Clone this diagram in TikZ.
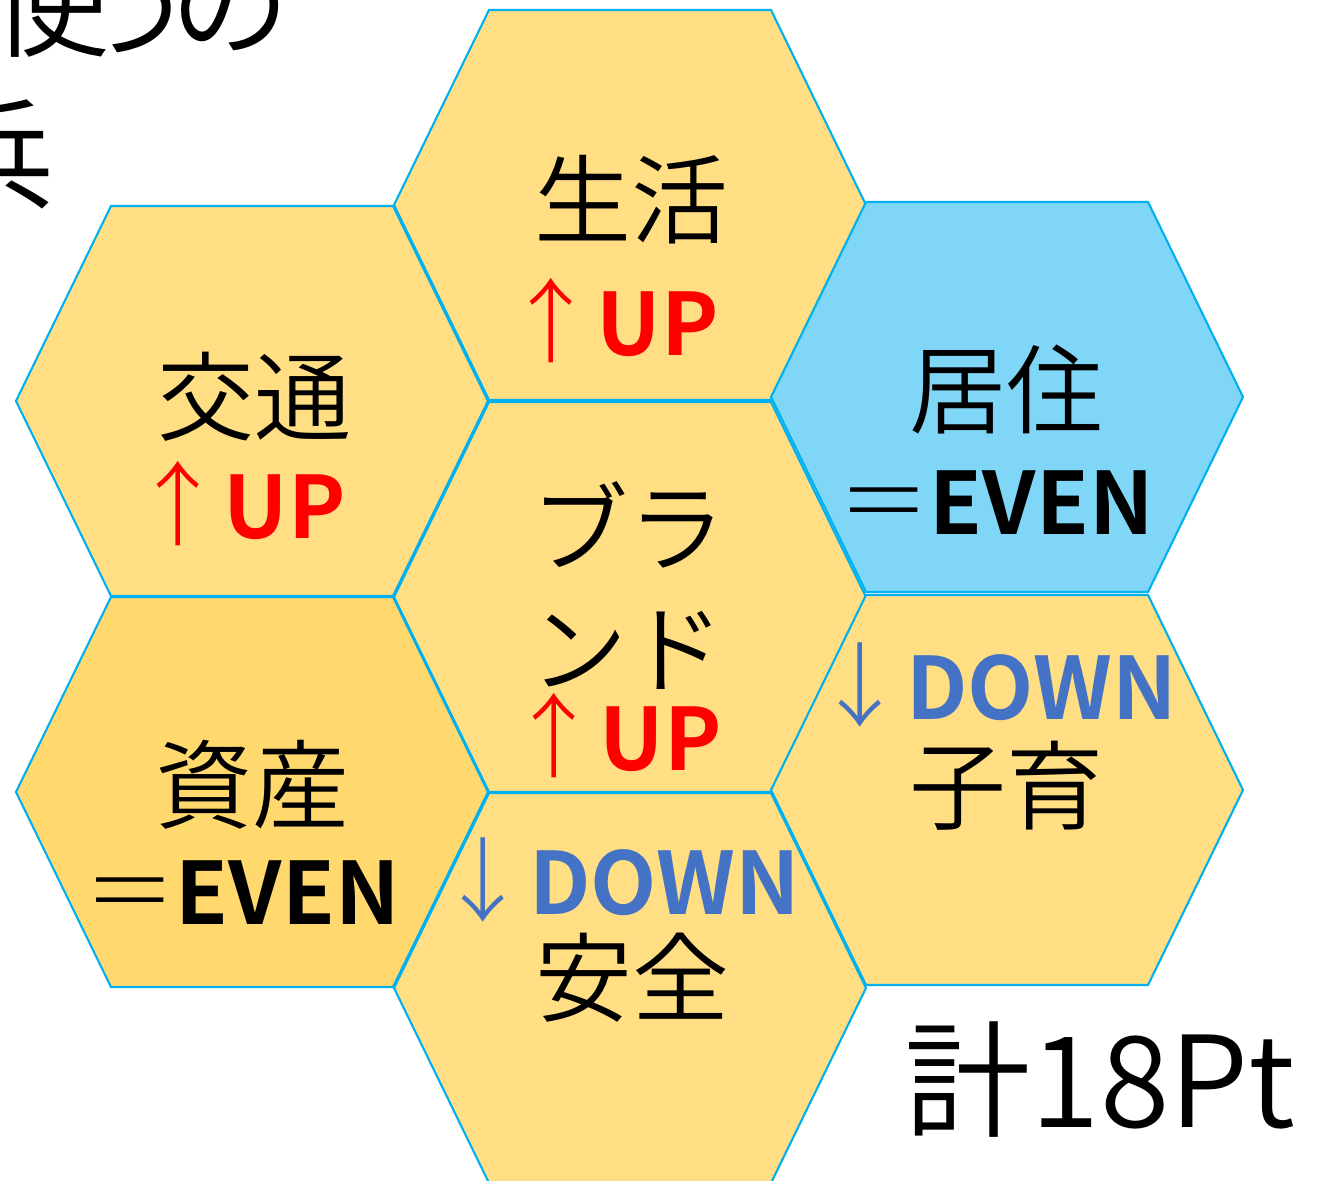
\documentclass[tikz,border=0pt]{standalone}
\usepackage{fontspec}
\setmainfont{Noto Sans CJK JP DemiLight}
\newfontfamily\boldjp{Noto Sans CJK JP Bold}
\newfontfamily\lightjp{Noto Sans CJK JP Light}
\definecolor{hexyellow}{HTML}{FFDE84}
\definecolor{assetyellow}{HTML}{FFD96E}
\definecolor{hexblue}{HTML}{7FD6F7}
\definecolor{hexedge}{HTML}{00B0F0}
\definecolor{downblue}{HTML}{4472C4}
\tikzset{every picture/.style={line width=0.75pt}}
\tikzset{hexline/.style={draw=hexedge, line width=0.6pt}}
\newcommand{\labelsize}{\fontsize{27.6}{33}\selectfont}
\newcommand{\marksize}{\fontsize{26}{31}\selectfont\lightjp}
\newcommand{\wordsize}{\fontsize{24.5}{30}\selectfont\boldjp}
\newcommand{\notesize}{\fontsize{34}{40}\selectfont}

\begin{document}
\begin{tikzpicture}[x=0.1mm, y=0.1mm]
\tikzstyle{every node}+=[inner sep=0pt]
\useasboundingbox (0,0) rectangle (1319,-1180);
\clip (0,0) rectangle (1319,-1180);
% honeycomb
\draw [hexline, fill=hexyellow] (394,-205) -- ++(95,195) -- ++(282,0) -- ++(95,-195) -- ++(-95,-195) -- ++(-282,0) -- cycle;
\draw [hexline, fill=hexyellow] (16,-401) -- ++(95,195) -- ++(282,0) -- ++(95,-195) -- ++(-95,-195) -- ++(-282,0) -- cycle;
\draw [hexline, fill=hexblue] (771,-397) -- ++(95,195) -- ++(282,0) -- ++(95,-195) -- ++(-95,-195) -- ++(-282,0) -- cycle;
\draw [hexline, fill=hexyellow] (394,-597) -- ++(95,195) -- ++(282,0) -- ++(95,-195) -- ++(-95,-195) -- ++(-282,0) -- cycle;
\draw [hexline, fill=assetyellow] (16,-792) -- ++(95,195) -- ++(282,0) -- ++(95,-195) -- ++(-95,-195) -- ++(-282,0) -- cycle;
\draw [hexline, fill=hexyellow] (771,-790) -- ++(95,195) -- ++(282,0) -- ++(95,-195) -- ++(-95,-195) -- ++(-282,0) -- cycle;
\draw [hexline, fill=hexyellow] (394,-988) -- ++(95,195) -- ++(282,0) -- ++(95,-195) -- ++(-95,-195) -- ++(-282,0) -- cycle;
% labels
\draw (631,-200) node (seikatsu) {\labelsize 生活};
\draw (612,-321) node (seikatsuup) {\color{red}{\marksize ↑}{\wordsize UP}};
\draw (254,-397) node (koutsuu) {\labelsize 交通};
\draw (239,-504) node (koutsuuup) {\color{red}{\marksize ↑}{\wordsize UP}};
\draw (1006,-390) node (kyojuu) {\labelsize 居住};
\draw (996,-503) node (kyojuueven) {{\marksize ＝}{\wordsize EVEN}};
\draw (628,-525) node (brandtop) {\labelsize ブラ};
\draw (627,-650) node (brandbottom) {\labelsize ンド};
\draw (615,-736) node (brandup) {\color{red}{\marksize ↑}{\wordsize UP}};
\draw (252,-785) node (shisan) {\labelsize 資産};
\draw (242,-893) node (shisaneven) {{\marksize ＝}{\wordsize EVEN}};
\draw (996,-685) node (kosodatedown) {\color{downblue}{\marksize ↓}{\wordsize DOWN}};
\draw (1006,-786) node (kosodate) {\labelsize 子育};
\draw (619,-880) node (anzendown) {\color{downblue}{\marksize ↓}{\wordsize DOWN}};
\draw (632,-978) node (anzen) {\labelsize 安全};
\draw (1100,-1080) node (total) {\fontsize{36}{42}\selectfont 計18Pt};
% cut-off note, top left
\draw (50,-48) node [anchor=base] (noteshi) {\notesize 使};
\draw (135,-48) node [anchor=base] (noteu) {\notesize う};
\draw (230,-48) node [anchor=base] (noteno) {\notesize の};
\draw (-5,-200) node [anchor=base] (notehei) {\notesize 兵};
\end{tikzpicture}
\end{document}
